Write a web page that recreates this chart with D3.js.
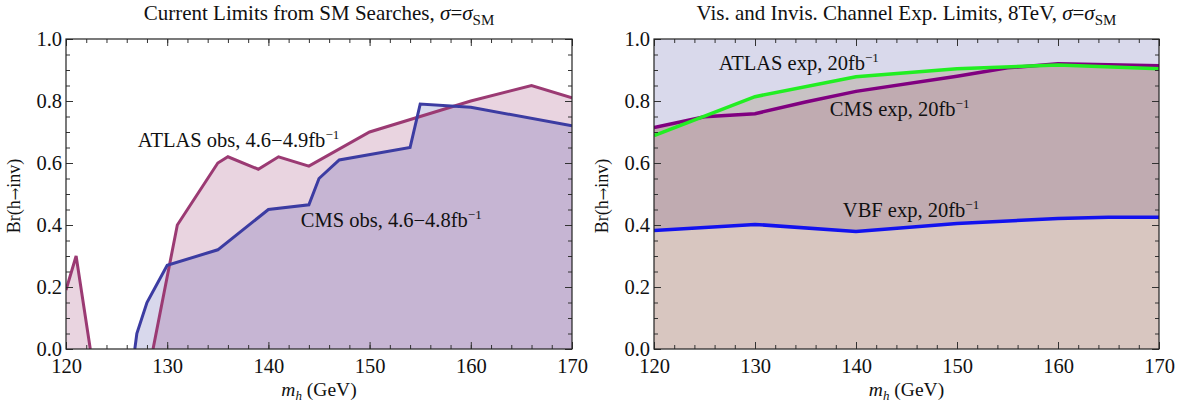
<!DOCTYPE html>
<html>
<head>
<meta charset="utf-8">
<script src="https://cdn.jsdelivr.net/npm/d3@7"></script>
<style>
body { margin: 0; background: #fff; }
svg text { font-family: "Liberation Serif", "DejaVu Serif", serif; fill: #111; }
</style>
</head>
<body>
<svg id="chart" width="1179" height="403"></svg>
<script>
var massTicks = [120, 130, 140, 150, 160, 170];
var massMinor = d3.range(120, 171, 2);
var brTicks = [0, 0.2, 0.4, 0.6, 0.8, 1.0];
var brMinor = d3.range(0, 1.001, 0.05);

// left: observed limits (ATLAS has a gap where the limit drops below 0)
var atlasObsMassA = [120, 121, 122.4];
var atlasObsBrA = [0.19, 0.30, 0];
var atlasObsMassB = [128.6, 131, 135, 136, 139, 141, 144, 150, 160, 166, 170];
var atlasObsBrB = [0, 0.40, 0.60, 0.62, 0.58, 0.62, 0.59, 0.70, 0.80, 0.85, 0.81];
var cmsObsMass = [126.8, 127, 128, 130, 135, 140, 144, 145, 147, 154, 155, 160, 170];
var cmsObsBr = [0, 0.05, 0.15, 0.27, 0.32, 0.45, 0.465, 0.55, 0.61, 0.65, 0.79, 0.78, 0.72];

// right: expected limits at 8 TeV
var atlasExpMass = [120, 130, 140, 150, 160, 170];
var atlasExpBr = [0.688, 0.814, 0.878, 0.904, 0.916, 0.904];
var cmsExpMass = [120, 125, 130, 135, 140, 150, 155, 160, 170];
var cmsExpBr = [0.714, 0.749, 0.759, 0.797, 0.831, 0.88, 0.907, 0.92, 0.914];
var vbfExpMass = [120, 130, 140, 150, 160, 165, 170];
var vbfExpBr = [0.382, 0.402, 0.379, 0.405, 0.421, 0.425, 0.425];

var svg = d3.select('#chart');
var plotTop = 39, plotH = 310;

function makePanel(left, w, clipId) {
    var g = svg.append('g').attr('transform', 'translate(' + left + ',' + plotTop + ')');
    var x = d3.scaleLinear().domain([120, 170]).range([0, w]);
    var y = d3.scaleLinear().domain([0, 1]).range([plotH, 0]);
    g.append('clipPath').attr('id', clipId)
        .append('rect').attr('width', w).attr('height', plotH);
    var plot = g.append('g').attr('clip-path', 'url(#' + clipId + ')');
    return {g: g, plot: plot, x: x, y: y, w: w};
}

function finishPanel(p, titleText) {
    var g = p.g;
    var fmt = d3.format('.1f');

    var axes = [
        {gen: d3.axisBottom(p.x), tr: 'translate(0,' + plotH + ')', major: massTicks, minor: massMinor, labels: true},
        {gen: d3.axisTop(p.x), tr: 'translate(0,0)', major: massTicks, minor: massMinor, labels: false},
        {gen: d3.axisLeft(p.y), tr: 'translate(0,0)', major: brTicks, minor: brMinor, labels: true},
        {gen: d3.axisRight(p.y), tr: 'translate(' + p.w + ',0)', major: brTicks, minor: brMinor, labels: false}
    ];
    axes.forEach(function(a, i) {
        var isY = i >= 2;
        g.append('g').attr('transform', a.tr)
            .call(a.gen.tickValues(a.minor).tickSize(-4).tickFormat(''))
            .call(function(s) { s.select('.domain').remove(); })
            .selectAll('line').attr('stroke', '#333');
        var major = g.append('g').attr('transform', a.tr)
            .call(a.gen.tickValues(a.major).tickSize(-7).tickPadding(isY ? 4 : 9)
                .tickFormat(a.labels ? (isY ? fmt : d3.format('d')) : ''));
        major.select('.domain').remove();
        major.selectAll('line').attr('stroke', '#333');
        major.selectAll('text')
            .style('font-family', '"Liberation Serif", serif')
            .style('font-size', '20.5px').attr('fill', '#111');
    });

    g.append('rect').attr('width', p.w).attr('height', plotH)
        .attr('fill', 'none').attr('stroke', '#222').attr('stroke-width', 1.2);

    // title
    var t = g.append('text').attr('x', p.w / 2).attr('y', -19)
        .attr('text-anchor', 'middle').style('font-size', '21px');
    t.append('tspan').text(titleText);
    t.append('tspan').style('font-style', 'italic').text('σ');
    t.append('tspan').text('=');
    t.append('tspan').style('font-style', 'italic').text('σ');
    t.append('tspan').attr('dy', 5).style('font-size', '15px').text('SM');

    // x label
    var xl = g.append('text').attr('x', p.w / 2).attr('y', plotH + 47)
        .attr('text-anchor', 'middle').style('font-size', '19.5px');
    xl.append('tspan').style('font-style', 'italic').text('m');
    xl.append('tspan').attr('dy', 4).style('font-style', 'italic').style('font-size', '13px').text('h');
    xl.append('tspan').attr('dy', -4).text(' (GeV)');

    // y label, arrow taken from DejaVu so it is full size
    var yl = g.append('text')
        .attr('transform', 'translate(-46,' + (plotH / 2 + 2) + ') rotate(-90)')
        .attr('text-anchor', 'middle').style('font-size', '18px');
    yl.append('tspan').text('Br(h');
    yl.append('tspan').style('font-family', '"DejaVu Serif", serif').style('font-size', '15px').text('→');
    yl.append('tspan').text('inv)');
}

function curveLabel(p, mass, br, main) {
    var t = p.g.append('text').attr('x', p.x(mass)).attr('y', p.y(br)).style('font-size', '20.5px');
    t.append('tspan').text(main);
    t.append('tspan').attr('dy', -8).style('font-size', '13px').text('−1');
}

function drawCurve(p, mass, br, fill, stroke, width) {
    var pts = d3.zip(mass, br);
    if (fill) {
        p.plot.append('path').datum(pts)
            .attr('d', d3.area().x(function(d) { return p.x(d[0]); })
                .y0(p.y(0)).y1(function(d) { return p.y(d[1]); }))
            .attr('fill', fill.color).attr('fill-opacity', fill.opacity);
    }
    return function() {
        p.plot.append('path').datum(pts)
            .attr('d', d3.line().x(function(d) { return p.x(d[0]); }).y(function(d) { return p.y(d[1]); }))
            .attr('fill', 'none').attr('stroke', stroke).attr('stroke-width', width)
            .attr('stroke-linejoin', 'miter');
    };
}

// ---- left panel
var L = makePanel(66, 506, 'clipL');
var atlasCol = '#9b3a73', cmsCol = '#3c3ca2';
var lines = [];
lines.push(drawCurve(L, atlasObsMassA, atlasObsBrA, {color: atlasCol, opacity: 0.22}, atlasCol, 3));
lines.push(drawCurve(L, atlasObsMassB, atlasObsBrB, {color: atlasCol, opacity: 0.22}, atlasCol, 3));
lines.push(drawCurve(L, cmsObsMass, cmsObsBr, {color: cmsCol, opacity: 0.2}, cmsCol, 3));
lines.forEach(function(f) { f(); });
finishPanel(L, 'Current Limits from SM Searches, ');
curveLabel(L, 127.1, 0.652, 'ATLAS obs, 4.6−4.9fb');
curveLabel(L, 143.2, 0.392, 'CMS obs, 4.6−4.8fb');

// ---- right panel
var R = makePanel(654, 505, 'clipR');
R.plot.append('rect').attr('width', R.w).attr('height', plotH).attr('fill', '#d9d9eb');
lines = [];
lines.push(drawCurve(R, atlasExpMass, atlasExpBr, {color: '#c8c2c4', opacity: 1}, '#22ee22', 3.5));
lines.push(drawCurve(R, cmsExpMass, cmsExpBr, {color: '#c0abb1', opacity: 1}, '#800080', 3.5));
lines.push(drawCurve(R, vbfExpMass, vbfExpBr, {color: '#d8c6c0', opacity: 1}, '#1212ee', 3.5));
[1, 0, 2].forEach(function(i) { lines[i](); });
finishPanel(R, 'Vis. and Invis. Channel Exp. Limits, 8TeV, ');
curveLabel(R, 126.4, 0.90, 'ATLAS exp, 20fb');
curveLabel(R, 137.4, 0.752, 'CMS exp, 20fb');
curveLabel(R, 138.7, 0.427, 'VBF exp, 20fb');
</script>
</body>
</html>
